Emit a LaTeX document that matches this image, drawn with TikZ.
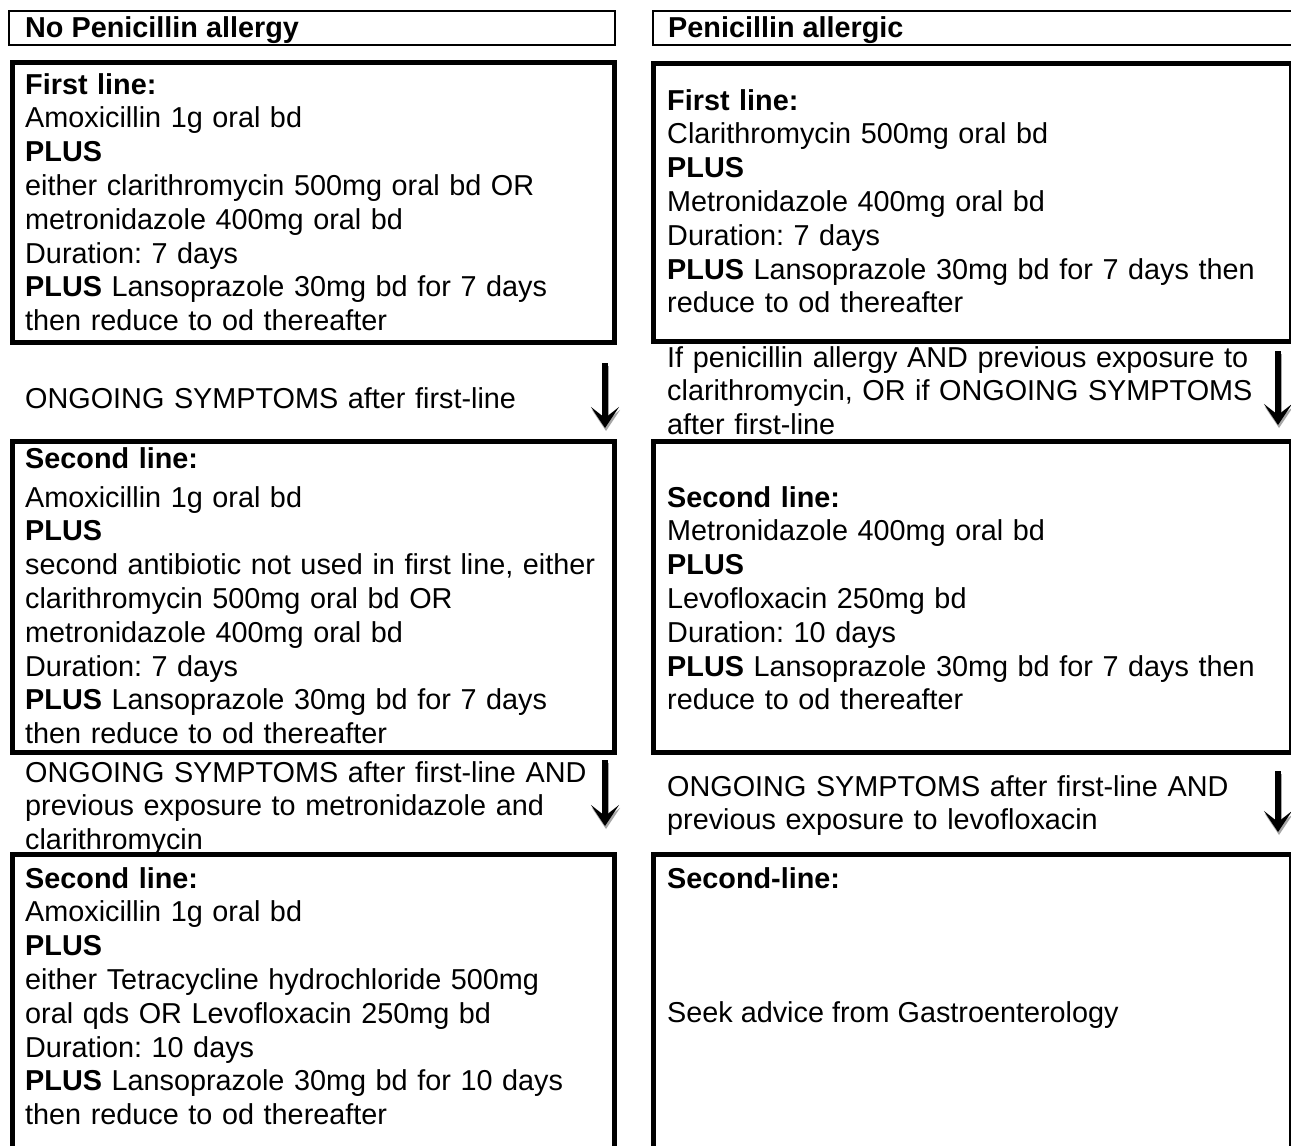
\documentclass[tikz,border=0pt]{standalone}
\usepackage{fontspec}
\setmainfont{Liberation Sans}
\usetikzlibrary{arrows.meta}
\newcommand\fsz{\fontsize{28.8}{33.8}\selectfont\frenchspacing}
\tikzset{
  boxframe/.style={draw, line width=4.5pt, rectangle, anchor=north west, inner sep=0pt},
  hdrframe/.style={draw, line width=1.6pt, rectangle, anchor=north west, inner sep=0pt},
  txt/.style={anchor=north west, inner sep=0pt, align=left, text width=610pt, font=\fsz},
  htxt/.style={anchor=base west, inner sep=0pt, font=\fsz\bfseries},
  flow/.style={line width=5.5pt, -{Stealth[length=21pt,width=28pt,inset=11pt]}},
  flowshadow/.style={line width=5.5pt, draw=black!35, fill=black!35, -{Stealth[length=21pt,width=28pt,inset=11pt]}}
}
\begin{document}
\begin{tikzpicture}[x=1pt,y=1pt]
\clip (0,0) rectangle (1291,-1146);
\fill[white] (0,0) rectangle (1291,-1146);

% header boxes
\node[hdrframe, minimum width=606pt, minimum height=34pt] (hL) at (8,-10) {};
\node[hdrframe, minimum width=660pt, minimum height=34pt] (hR) at (652,-10) {};
\node[htxt] (hLt) at (25,-37) {No Penicillin allergy};
\node[htxt] (hRt) at (668,-37) {Penicillin allergic};

% main boxes
\node[boxframe, minimum width=602pt, minimum height=280pt] (L1) at (10,-60) {};
\node[boxframe, minimum width=638pt, minimum height=278pt] (R1) at (651,-61) {};
\node[boxframe, minimum width=602pt, minimum height=311pt] (L2) at (10,-439) {};
\node[boxframe, minimum width=638pt, minimum height=311pt] (R2) at (651,-439) {};
\node[boxframe, minimum width=602pt, minimum height=330pt] (L3) at (10,-852) {};
\node[boxframe, minimum width=638pt, minimum height=330pt] (R3) at (651,-852) {};

% box texts
\node[txt] (L1t) at (25,-70.3) {\strut\textbf{First line:}\\
Amoxicillin 1g oral bd\\
\textbf{PLUS}\\
either clarithromycin 500mg oral bd OR\\
metronidazole 400mg oral bd\\
Duration: 7 days\\
\textbf{PLUS} Lansoprazole 30mg bd for 7 days\\
then reduce to od thereafter};

\node[txt] (R1t) at (667,-86.3) {\strut\textbf{First line:}\\
Clarithromycin 500mg oral bd\\
\textbf{PLUS}\\
Metronidazole 400mg oral bd\\
Duration: 7 days\\
\textbf{PLUS} Lansoprazole 30mg bd for 7 days then\\
reduce to od thereafter};

\node[txt] (L2h) at (25,-445) {\strut\textbf{Second line:}};
\node[txt] (L2t) at (25,-483.3) {\strut Amoxicillin 1g oral bd\\
\textbf{PLUS}\\
second antibiotic not used in first line, either\\
clarithromycin 500mg oral bd OR\\
metronidazole 400mg oral bd\\
Duration: 7 days\\
\textbf{PLUS} Lansoprazole 30mg bd for 7 days\\
then reduce to od thereafter};

\node[txt] (R2t) at (667,-483.3) {\strut\textbf{Second line:}\\
Metronidazole 400mg oral bd\\
\textbf{PLUS}\\
Levofloxacin 250mg bd\\
Duration: 10 days\\
\textbf{PLUS} Lansoprazole 30mg bd for 7 days then\\
reduce to od thereafter};

\node[txt] (L3t) at (25,-864.3) {\strut\textbf{Second line:}\\
Amoxicillin 1g oral bd\\
\textbf{PLUS}\\
either Tetracycline hydrochloride 500mg\\
oral qds OR Levofloxacin 250mg bd\\
Duration: 10 days\\
\textbf{PLUS} Lansoprazole 30mg bd for 10 days\\
then reduce to od thereafter};

\node[txt] (R3t) at (667,-864.3) {\strut\textbf{Second-line:}};
\node[anchor=base west, inner sep=0pt, font=\fsz] (R3s) at (667,-1022) {Seek advice from Gastroenterology};

% transition texts
\node[txt] (cL1) at (25,-384.3) {\strut ONGOING SYMPTOMS after first-line};
\node[txt] (cR1) at (667,-343.3) {\strut If penicillin allergy AND previous exposure to\\
clarithromycin, OR if ONGOING SYMPTOMS\\
after first-line};
\node[txt] (cL2) at (25,-758.3) {\strut ONGOING SYMPTOMS after first-line AND\\
previous exposure to metronidazole and\\
clarithromycin};
\node[txt] (cR2) at (667,-772.3) {\strut ONGOING SYMPTOMS after first-line AND\\
previous exposure to levofloxacin};

% arrows
\coordinate (aL1s) at (605,-363); \coordinate (aL1e) at (605,-428);
\coordinate (aR1s) at (1278,-351); \coordinate (aR1e) at (1278,-425);
\coordinate (aL2s) at (605,-760); \coordinate (aL2e) at (605,-826);
\coordinate (aR2s) at (1278,-771); \coordinate (aR2e) at (1278,-832);
\foreach \s/\e in {aL1s/aL1e, aR1s/aR1e, aL2s/aL2e, aR2s/aR2e}{
  \draw[flowshadow] ([shift={(1,-3)}]\s) -- ([shift={(1,-3)}]\e);
  \draw[flow] (\s) -- (\e);
}
\end{tikzpicture}
\end{document}
